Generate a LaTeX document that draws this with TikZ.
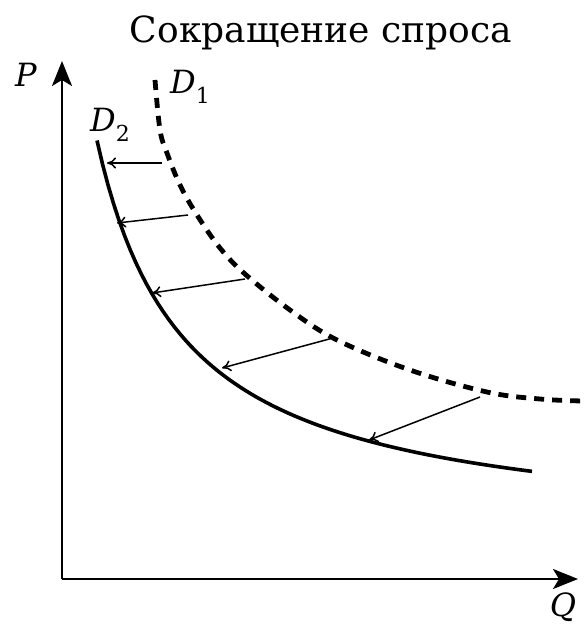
\documentclass[tikz,border=0pt]{standalone}
\usepackage{fontspec}
\setmainfont{DejaVu Serif}
\usetikzlibrary{arrows.meta}
\newcommand{\subidx}[1]{\raisebox{-0.3em}{\fontsize{11}{13}\selectfont\upshape #1}}

\begin{document}
\begin{tikzpicture}[
  x=0.5pt,y=-0.5pt,
  axis/.style={line width=1pt,-{Stealth[length=12.5pt,width=10pt,inset=3pt]}},
  demand/.style={line width=1.8pt},
  olddemand/.style={line width=2.4pt,dash pattern=on 5pt off 4pt},
  shiftarr/.style={line width=0.75pt,-{To[length=4.5pt,width=5.5pt]}},
  lbl/.style={font=\fontsize{16}{18}\selectfont\itshape,inner sep=0pt}]
\useasboundingbox (0,0) rectangle (583,631);
% axes
\coordinate (O)    at (62,579);
\coordinate (Ptip) at (62,61);
\coordinate (Qtip) at (578,579);
\draw[axis] (O) -- (Ptip);
\draw[axis] (O) -- (Qtip);
\node[lbl] (P) at (26,75)  {P};
\node[lbl] (Q) at (563,607) {Q};
% title
\node[font=\fontsize{18}{21}\selectfont] (title) at (321,33) {Сокращение спроса};
% demand curves
\draw[olddemand] plot[smooth,tension=0.6] coordinates {(155,80) (160,130) (167,153)
  (180,185) (197,215) (220,248) (245,274) (290,310) (337,340) (410,370) (487,392)
  (540,399) (583,401)};
\draw[demand] plot[domain=35:470,samples=80]
  ({62+\x},{578-348.2/((\x+52.6)/100)-40});
\node[lbl] (D1) at (190,87)  {D\subidx{1}};
\node[lbl] (D2) at (110,125) {D\subidx{2}};
% shift arrows
\coordinate (a1) at (162,163); \coordinate (b1) at (107,163);
\coordinate (a2) at (188,215); \coordinate (b2) at (117,223);
\coordinate (a3) at (245,279); \coordinate (b3) at (152,293);
\coordinate (a4) at (333,338); \coordinate (b4) at (222,368);
\coordinate (a5) at (480,397); \coordinate (b5) at (369,440);
\foreach \i in {1,...,5}
  \draw[shiftarr] (a\i) -- (b\i);
\end{tikzpicture}
\end{document}
